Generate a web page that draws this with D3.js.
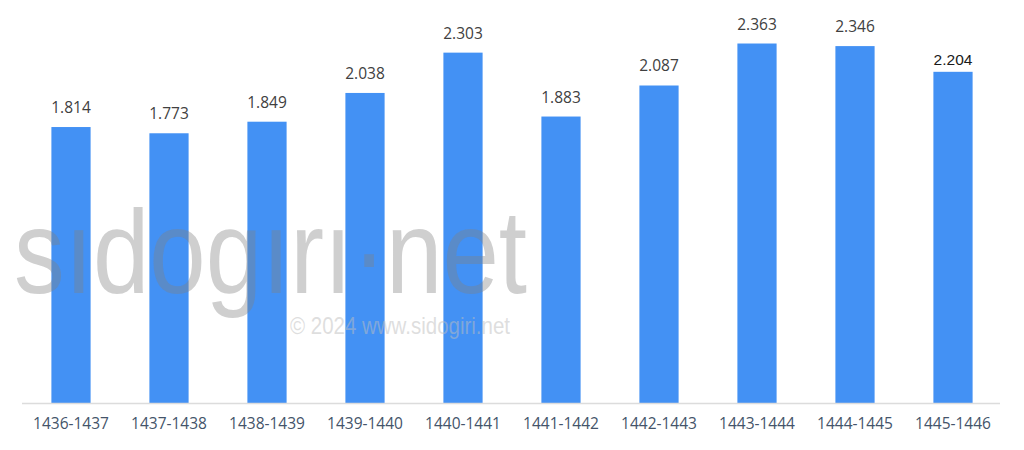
<!DOCTYPE html>
<html><head><meta charset="utf-8">
<script src="https://cdn.jsdelivr.net/npm/d3@7"></script>
<style>html,body{margin:0;padding:0;background:#fff;}</style>
</head><body>
<script>
const categories = ["1436-1437","1437-1438","1438-1439","1439-1440","1440-1441","1441-1442","1442-1443","1443-1444","1444-1445","1445-1446"];
const values = [1.814,1.773,1.849,2.038,2.303,1.883,2.087,2.363,2.346,2.177];
const valueLabels = ["1.814","1.773","1.849","2.038","2.303","1.883","2.087","2.363","2.346","2.204"];

const W = 1024, H = 450;
const svg = d3.select("body").append("svg").attr("width", W).attr("height", H);

const x = d3.scaleBand().domain(categories).range([22, 1002]).paddingInner(0.6).paddingOuter(0.3);
const y = d3.scaleLinear().domain([0, 2.649]).range([403, 0]);

// bars
svg.append("g").selectAll("rect").data(values).join("rect")
  .attr("x", (d, i) => x(categories[i]))
  .attr("width", x.bandwidth())
  .attr("y", d => y(d))
  .attr("height", d => y(0) - y(d))
  .attr("fill", "#4391f4");

// value labels (last label is a pasted-in label, drawn closer and darker)
svg.append("g").selectAll("text").data(values).join("text")
  .attr("x", (d, i) => x(categories[i]) + x.bandwidth() / 2)
  .attr("y", (d, i) => y(d) - (i === values.length - 1 ? 7 : 14))
  .attr("text-anchor", "middle")
  .attr("font-family", (d, i) => i === values.length - 1 ? "Liberation Sans, Arial, sans-serif" : "Open Sans, Noto Sans, sans-serif")
  .attr("font-size", 15.5)
  .attr("fill", (d, i) => i === values.length - 1 ? "#1a1a1a" : "#404040")
  .text((d, i) => valueLabels[i]);

// x axis
const xAxis = d3.axisBottom(x).tickSize(0).tickPadding(15);
const gx = svg.append("g").attr("transform", "translate(0,403)").call(xAxis);
gx.select(".domain").attr("stroke", "#dcdcdc").attr("stroke-width", 1.5)
  .attr("d", "M22,0.5H1000");
gx.selectAll("text").attr("font-family", "Open Sans, Noto Sans, sans-serif").attr("font-size", 15.5)
  .attr("fill", "#44546a");

// watermark (semi-transparent, over the bars)
svg.append("text").attr("x", 14).attr("y", 293)
  .attr("font-family", "Liberation Sans, Arial, sans-serif").attr("font-size", 118)
  .attr("fill", "#808080").attr("fill-opacity", 0.38)
  .attr("textLength", 513).attr("lengthAdjust", "spacingAndGlyphs")
  .text("sıdogırı·net");
svg.append("text").attr("x", 290).attr("y", 334)
  .attr("font-family", "Liberation Sans, Arial, sans-serif").attr("font-size", 24)
  .attr("fill", "#bebebe").attr("fill-opacity", 0.5)
  .attr("textLength", 220).attr("lengthAdjust", "spacingAndGlyphs")
  .text("© 2024 www.sidogiri.net");
</script>
</body></html>
